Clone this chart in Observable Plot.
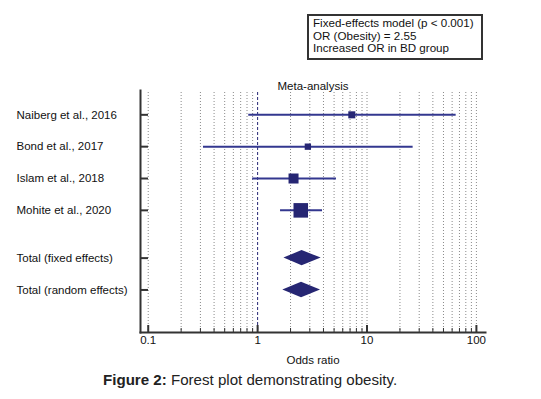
<!DOCTYPE html>
<html>
<head>
<meta charset="utf-8">
<script src="https://cdn.jsdelivr.net/npm/d3@7"></script>
<script src="https://cdn.jsdelivr.net/npm/@observablehq/plot@0.6"></script>
<style>
  html, body { margin: 0; padding: 0; background: #fff; }
  body { width: 541px; height: 399px; position: relative; overflow: hidden; font-family: "Liberation Sans", Arial, sans-serif; }
  #chart { position: absolute; left: 0; top: 0; }
  #note { position: absolute; left: 307px; top: 14px; width: 176px; height: 46px; box-sizing: border-box;
          border: 2px solid #333; padding: 1px 0 0 4px; font-size: 11.6px; line-height: 12.7px; color: #111; background: #fff; white-space: nowrap; }
  #caption { position: absolute; left: 103px; top: 371px; font-size: 15.1px; line-height: 18px; color: #222; white-space: nowrap; }
</style>
</head>
<body>
<div id="chart"></div>
<div id="note">Fixed-effects model (p &lt; 0.001)<br>OR (Obesity) = 2.55<br>Increased OR in BD group</div>
<div id="caption"><b>Figure 2:</b> Forest plot demonstrating obesity.</div>
<script>
// ---- data ----
const studies = ["Naiberg et al., 2016", "Bond et al., 2017", "Islam et al., 2018", "Mohite et al., 2020"];
const studyOR = [7.26, 2.88, 2.13, 2.48];
const studyLo = [0.83, 0.32, 0.90, 1.62];
const studyHi = [65.3, 26.4, 5.26, 3.92];
const studyWeight = [12.3, 10.0, 25.0, 52.7];

const pooled = ["Total (fixed effects)", "Total (random effects)"];
const pooledOR = [2.55, 2.52];
const pooledLo = [1.74, 1.70];
const pooledHi = [3.81, 3.76];

const majorTicks = [0.1, 1, 10, 100];
const minorTicks = [0.2, 0.3, 0.4, 0.5, 0.6, 0.7, 0.8, 0.9, 2, 3, 4, 5, 6, 7, 8, 9, 20, 30, 40, 50, 60, 70, 80, 90];
const gridTicks = [0.1, 0.2, 0.3, 0.4, 0.5, 0.6, 0.7, 0.8, 0.9, 2, 3, 4, 5, 6, 7, 8, 9, 10, 20, 30, 40, 50, 60, 70, 80, 90, 100];

const title = "Meta-analysis";
const xLabel = "Odds ratio";

// ---- layout ----
const W = 541, H = 372;
const mL = 140, mR = 56, mT = 90, mB = 40;
const innerW = W - mL - mR, innerH = H - mT - mB;
const navy = "#262673", lineBlue = "#33378f", axisCol = "#333";
const fs = 11.5;

const studyRows = studies.map((name, i) => ({name, row: i + 1, or: studyOR[i], lo: studyLo[i], hi: studyHi[i], w: studyWeight[i]}));
const pooledRows = pooled.map((name, j) => ({name, row: studies.length + 1.5 + j, or: pooledOR[j], lo: pooledLo[j], hi: pooledHi[j]}));
const allRows = [...studyRows, ...pooledRows];
const halfH = 0.242; // diamond half-height in row units
const diamondPts = pooledRows.flatMap(d => [
  {name: d.name, y: d.row - halfH, x1: d.or, x2: d.or},
  {name: d.name, y: d.row, x1: d.lo, x2: d.hi},
  {name: d.name, y: d.row + halfH, x1: d.or, x2: d.or}
]);

const chart = Plot.plot({
  width: W, height: H,
  marginLeft: mL, marginRight: mR, marginTop: mT, marginBottom: mB,
  style: {fontFamily: "'Liberation Sans', Arial, sans-serif", fontSize: fs + "px", color: "#111", background: "#fff"},
  x: {type: "log", domain: [0.0850, 121.1]},
  y: {domain: [0.236, 7.836], reverse: true, axis: null},
  r: {type: "sqrt", domain: [0, 52.7], range: [0, 8.2]},
  marks: [
    Plot.ruleX(gridTicks, {stroke: "#8a8a8a", strokeDasharray: "1,2", insetTop: 2}),
    Plot.ruleX([1], {stroke: navy, strokeDasharray: "3,2", insetTop: 2}),
    Plot.frame({anchor: "left", stroke: axisCol, strokeWidth: 2}),
    Plot.frame({anchor: "bottom", stroke: axisCol, strokeWidth: 2}),
    Plot.ruleX(majorTicks, {stroke: axisCol, strokeWidth: 2, insetTop: innerH - 7}),
    Plot.ruleX(minorTicks, {stroke: axisCol, strokeWidth: 1, insetTop: innerH - 4}),
    Plot.ruleY(allRows, {y: "row", stroke: axisCol, strokeWidth: 2, insetRight: innerW - 8}),
    Plot.axisX({ticks: majorTicks, tickSize: 0, tickPadding: 3, tickFormat: d => String(d), fontSize: fs, color: "#111", label: null}),
    Plot.ruleY(studyRows, {y: "row", x1: "lo", x2: "hi", stroke: lineBlue, strokeWidth: 2}),
    Plot.dot(studyRows, {y: "row", x: "or", r: "w", symbol: "square", fill: navy, stroke: "none"}),
    Plot.areaX(diamondPts, {y: "y", x1: "x1", x2: "x2", z: "name", fill: navy}),
    Plot.text(allRows, {y: "row", text: "name", frameAnchor: "left", textAnchor: "start", dx: -124, fontSize: fs, fill: "#111"}),
    Plot.text([title], {frameAnchor: "top", dy: -9, fontSize: fs, fill: "#111"}),
    Plot.text([xLabel], {frameAnchor: "bottom", dy: 31, fontSize: fs, fill: "#111"})
  ]
});
document.getElementById("chart").appendChild(chart);
</script>
</body>
</html>
